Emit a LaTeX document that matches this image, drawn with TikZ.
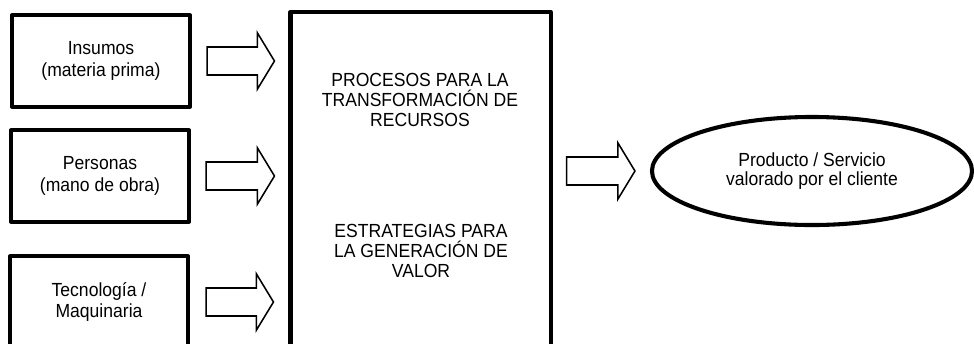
\documentclass[tikz,border=0pt]{standalone}
\usepackage{fontspec}
\setmainfont{Liberation Sans}
\newfontfamily\diagfont{Liberation Sans}[FakeStretch=0.925]
\usetikzlibrary{shapes.geometric,calc}

\newcommand{\hollowarrow}[2]{%
  \draw[arrowline] ($(#1)+(0,-14)$) -- ($(#2)+(-17,-14)$) -- ($(#2)+(-17,-28)$)
    -- (#2) -- ($(#2)+(-17,28)$) -- ($(#2)+(-17,14)$) -- ($(#1)+(0,14)$) -- cycle;}

\begin{document}
\begin{tikzpicture}[x=0.025cm,y=-0.025cm,
  inbox/.style={draw, line width=2.9pt, line join=round, inner sep=0pt, outer sep=0pt,
    minimum width=4.45cm, minimum height=2.28cm, align=center,
    font=\diagfont\fontsize{13.5}{16}\selectfont},
  procbox/.style={draw, line width=2.9pt, line join=round, inner sep=0pt, outer sep=0pt,
    minimum width=6.5cm, minimum height=8.45cm},
  proctext/.style={align=center, inner sep=0pt, font=\diagfont\fontsize{13.5}{14}\selectfont},
  outellipse/.style={draw, ellipse, line width=2.9pt, inner sep=0pt, outer sep=0pt,
    minimum width=8cm, minimum height=2.7cm, align=center,
    font=\diagfont\fontsize{13.5}{13.5}\selectfont},
  arrowline/.style={draw, line width=1.1pt, line join=miter}]
\useasboundingbox (0,0) rectangle (974,343);
%input boxes
\node[inbox] (ins) at (101,61) {Insumos\\(materia prima)};
\node[inbox] (per) at (100,176) {Personas\\(mano de obra)};
\node[inbox, font=\diagfont\fontsize{13.5}{14.5}\selectfont] (tec) at (99,302) {Tecnología /\\Maquinaria};
%process box
\node[procbox] (proc) at (420.5,181) {};
\node[proctext] (procA) at (420,100) {PROCESOS PARA LA\\TRANSFORMACIÓN DE\\RECURSOS};
\node[proctext] (procB) at (421,251) {ESTRATEGIAS PARA\\LA GENERACIÓN DE\\VALOR};
%output
\node[outellipse] (prod) at (812,171) {Producto / Servicio\\valorado por el cliente};
%arrows
\coordinate (a1s) at ($(ins.east)+(17,0)$);
\coordinate (a1e) at ($(ins.east -| proc.west)+(-16,0)$);
\coordinate (a2s) at ($(per.east)+(17,0)$);
\coordinate (a2e) at ($(per.east -| proc.west)+(-16,0)$);
\coordinate (a3s) at ($(tec.east)+(18,0)$);
\coordinate (a3e) at ($(tec.east -| proc.west)+(-17,0)$);
\coordinate (a4s) at ($(proc.east |- prod.west)+(16,0)$);
\coordinate (a4e) at ($(prod.west)+(-17,0)$);
\hollowarrow{a1s}{a1e}
\hollowarrow{a2s}{a2e}
\hollowarrow{a3s}{a3e}
\hollowarrow{a4s}{a4e}
\end{tikzpicture}
\end{document}
